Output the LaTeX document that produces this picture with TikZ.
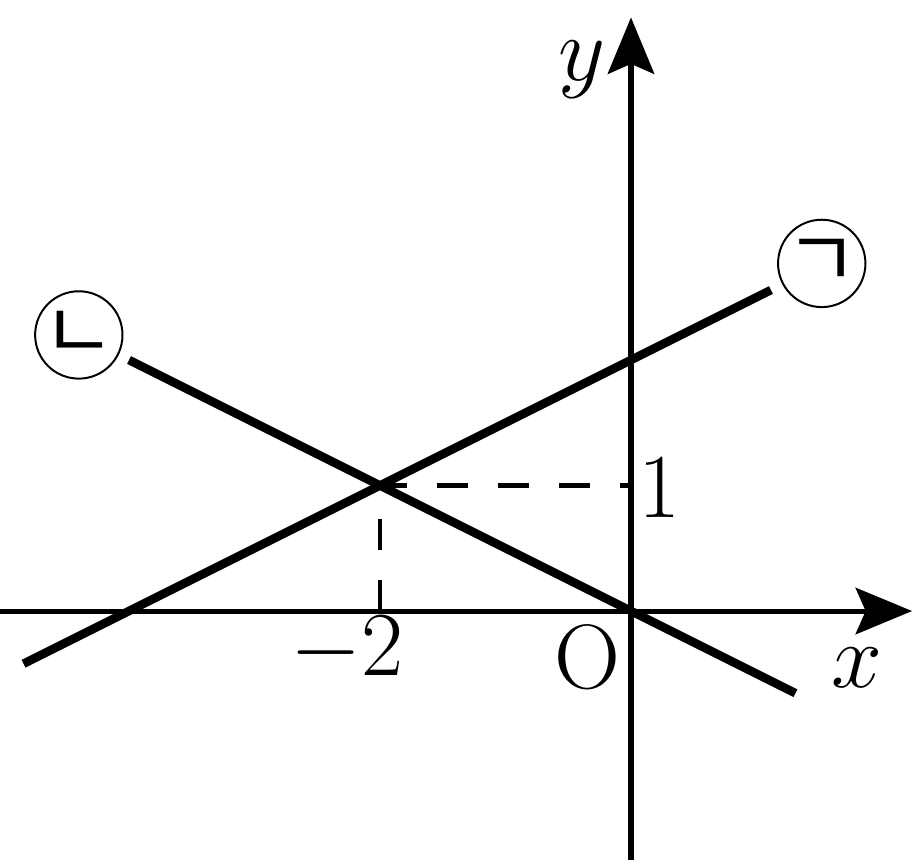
\documentclass[tikz,border=0pt]{standalone}
\usepackage{fontspec}
\newfontfamily\krfont{Noto Sans CJK KR}
\usetikzlibrary{arrows.meta}
\begin{document}
\begin{tikzpicture}
[axis/.style={line width=1.15pt,
              -{Stealth[length=4.5mm,width=3.7mm,inset=0.8mm]}},
 graph/.style={line width=1.95pt},
 guide/.style={line width=1pt,dash pattern=on 7pt off 6.8pt},
 tag/.style={circle,draw,line width=0.45pt,minimum size=6.4mm,
             inner sep=0pt,font=\krfont\fontsize{18}{18}\selectfont},
 lbl/.style={font=\huge}]
\useasboundingbox (-5.028,-1.976) rectangle (2.255,4.869);
% axes
\coordinate (xl) at (-5.03,0);
\coordinate (xr) at (2.24,0);
\coordinate (yb) at (0,-1.98);
\coordinate (yt) at (0,4.73);
\draw[axis] (xl) -- (xr);
\draw[axis] (yb) -- (yt);
% lines
\coordinate (ga1) at (-4.84,-0.42);
\coordinate (ga2) at (1.115,2.5575);
\coordinate (na1) at (-4,2);
\coordinate (na2) at (1.31,-0.655);
\draw[graph] (ga1) -- (ga2);
\draw[graph] (na1) -- (na2);
% intersection
\coordinate (P) at (-2,1);
\coordinate (Px) at (-2,0);
\coordinate (Py) at (0,1);
\draw[guide] (Px) -- (P) -- (Py);
% labels
\node[tag] (ga) at (1.52,2.77) {ㄱ};
\node[tag] (na) at (-4.40,2.20) {ㄴ};
\node[lbl] (xlab) at (1.80,-0.45) {$x$};
\node[lbl] (ylab) at (-0.39,4.31) {$y$};
\node[lbl] (olab) at (-0.35,-0.37) {O};
\node[lbl] (mtwo) at (-2.26,-0.31) {$-2$};
\node[lbl] (one) at (0.23,0.99) {1};
\end{tikzpicture}
\end{document}
